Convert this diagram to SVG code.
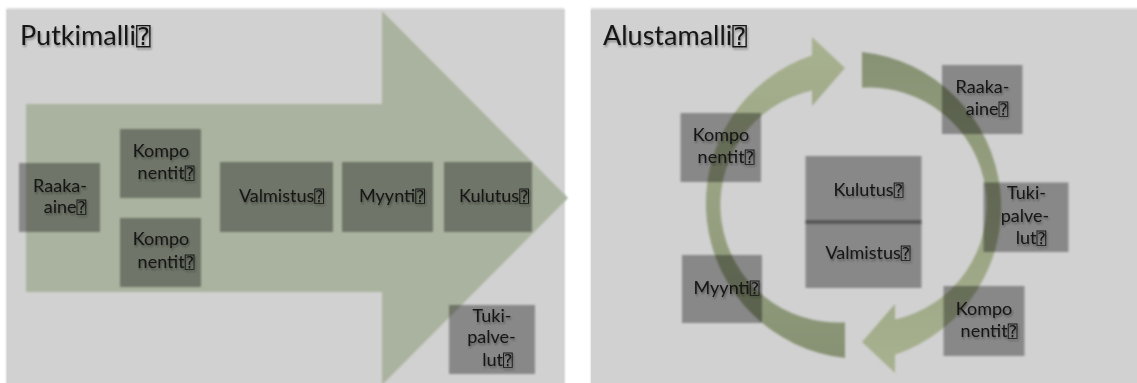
<svg xmlns="http://www.w3.org/2000/svg" width="1137" height="383" viewBox="0 0 1137 383">
  <style>
    .panel { fill: #d1d1d1; }
    .box { fill: #000; fill-opacity: 0.35; filter: url(#soft); }
    .lbl { font-family: Lato, "Open Sans", "Liberation Sans", sans-serif; font-size: 18px; fill: #141414; text-anchor: middle; filter: url(#txtShadow); }
    .title { font-family: Lato, "Open Sans", "Liberation Sans", sans-serif; font-size: 27px; fill: #141414; filter: url(#txtShadow); }
    .q { font-family: "DejaVu Sans Mono", "DejaVu Sans", monospace; font-size: 0.9em; }
    .bigArrow { fill: #aab39f; filter: url(#soft); }
    .ring { fill: url(#ringGrad); filter: url(#soft); }
  </style>
  <defs>
    <filter id="soft" x="-5%" y="-5%" width="110%" height="110%">
      <feGaussianBlur stdDeviation="0.9"/>
    </filter>
    <filter id="txtShadow" x="-10%" y="-30%" width="120%" height="160%">
      <feDropShadow dx="1" dy="2" stdDeviation="1.2" flood-color="#000" flood-opacity="0.35"/>
    </filter>
    <filter id="panelShadow" x="-2%" y="-2%" width="104%" height="104%">
      <feDropShadow dx="0" dy="-1" stdDeviation="1.2" flood-color="#000" flood-opacity="0.2"/>
    </filter>
    <linearGradient id="ringGrad" x1="0" y1="0" x2="0" y2="1">
      <stop offset="0" stop-color="#879274"/>
      <stop offset="0.5" stop-color="#98a282"/>
      <stop offset="1" stop-color="#a8b290"/>
    </linearGradient>
  </defs>

  <rect width="1137" height="383" fill="#ffffff"/>

  <!-- left panel: pipeline model -->
  <g id="panel-pipeline">
    <rect class="panel" x="6.5" y="9.5" width="558" height="380" filter="url(#panelShadow)"/>
    <text class="title" x="20" y="45">Putkimalli<tspan class="q">⍰</tspan></text>
  </g>

  <!-- right panel: platform model -->
  <g id="panel-platform">
    <rect class="panel" x="591" y="9.5" width="550" height="380" filter="url(#panelShadow)"/>
    <text class="title" x="603" y="45">Alustamalli<tspan class="q">⍰</tspan></text>
  </g>

  <!-- flow arrows -->
  <g id="connectors">
    <path id="pipe-arrow" class="bigArrow" d="M26 104 H382 V11 L568 198 L382 385 V292 H26 Z"/>
    <path id="ring-right" class="ring" d="M862 51.9 A156 156 0 0 1 895 354.8 L895 373 L862 342 L895 304 L895 319.6 A117.5 117.5 0 0 0 862 87.7 Z"/>
    <path id="ring-left" class="ring" transform="rotate(180 853.5 205)" d="M862 51.9 A156 156 0 0 1 895 354.8 L895 373 L862 342 L895 304 L895 319.6 A117.5 117.5 0 0 0 862 87.7 Z"/>
  </g>

  <!-- pipeline nodes -->
  <g id="p-raaka-aine">
    <rect class="box" x="19" y="163" width="81" height="69"/>
    <text class="lbl" x="60" y="192">Raaka-</text>
    <text class="lbl" x="65" y="213">aine<tspan class="q">⍰</tspan></text>
  </g>
  <g id="p-komponentit-1">
    <rect class="box" x="120" y="129" width="81" height="69"/>
    <text class="lbl" x="161" y="157">Kompo</text>
    <text class="lbl" x="166" y="179">nentit<tspan class="q">⍰</tspan></text>
  </g>
  <g id="p-komponentit-2">
    <rect class="box" x="120" y="218" width="81" height="69"/>
    <text class="lbl" x="161" y="245">Kompo</text>
    <text class="lbl" x="166" y="268">nentit<tspan class="q">⍰</tspan></text>
  </g>
  <g id="p-valmistus">
    <rect class="box" x="220" y="162" width="113" height="70"/>
    <text class="lbl" x="281.5" y="202">Valmistus<tspan class="q">⍰</tspan></text>
  </g>
  <g id="p-myynti">
    <rect class="box" x="342" y="162" width="91" height="70"/>
    <text class="lbl" x="392" y="202">Myynti<tspan class="q">⍰</tspan></text>
  </g>
  <g id="p-kulutus">
    <rect class="box" x="444" y="162" width="88" height="70"/>
    <text class="lbl" x="494" y="202">Kulutus<tspan class="q">⍰</tspan></text>
  </g>
  <g id="p-tukipalvelut">
    <rect class="box" x="449" y="305" width="86" height="69"/>
    <text class="lbl" x="492" y="322">Tuki-</text>
    <text class="lbl" x="491.5" y="343">palve-</text>
    <text class="lbl" x="497.5" y="366">lut<tspan class="q">⍰</tspan></text>
  </g>

  <!-- platform nodes -->
  <g id="a-komponentit-1">
    <rect class="box" x="680.5" y="113" width="80.5" height="69"/>
    <text class="lbl" x="721" y="141">Kompo</text>
    <text class="lbl" x="726" y="163">nentit<tspan class="q">⍰</tspan></text>
  </g>
  <g id="a-myynti">
    <rect class="box" x="682" y="255" width="80" height="68"/>
    <text class="lbl" x="726.5" y="294">Myynti<tspan class="q">⍰</tspan></text>
  </g>
  <g id="a-kulutus">
    <rect class="box" x="805.5" y="156" width="116" height="68"/>
    <text class="lbl" x="868.5" y="196">Kulutus<tspan class="q">⍰</tspan></text>
  </g>
  <g id="a-valmistus">
    <rect class="box" x="805.5" y="220" width="116" height="68"/>
    <text class="lbl" x="868" y="259">Valmistus<tspan class="q">⍰</tspan></text>
  </g>
  <g id="a-raaka-aine">
    <rect class="box" x="942" y="65" width="80.5" height="69"/>
    <text class="lbl" x="982.5" y="93">Raaka-</text>
    <text class="lbl" x="987" y="115">aine<tspan class="q">⍰</tspan></text>
  </g>
  <g id="a-tukipalvelut">
    <rect class="box" x="983.5" y="182.5" width="85" height="69.5"/>
    <text class="lbl" x="1026.5" y="198.5">Tuki-</text>
    <text class="lbl" x="1025" y="222">palve-</text>
    <text class="lbl" x="1031" y="243.5">lut<tspan class="q">⍰</tspan></text>
  </g>
  <g id="a-komponentit-2">
    <rect class="box" x="943.5" y="286" width="81" height="70"/>
    <text class="lbl" x="984" y="315">Kompo</text>
    <text class="lbl" x="989" y="337">nentit<tspan class="q">⍰</tspan></text>
  </g>
</svg>
